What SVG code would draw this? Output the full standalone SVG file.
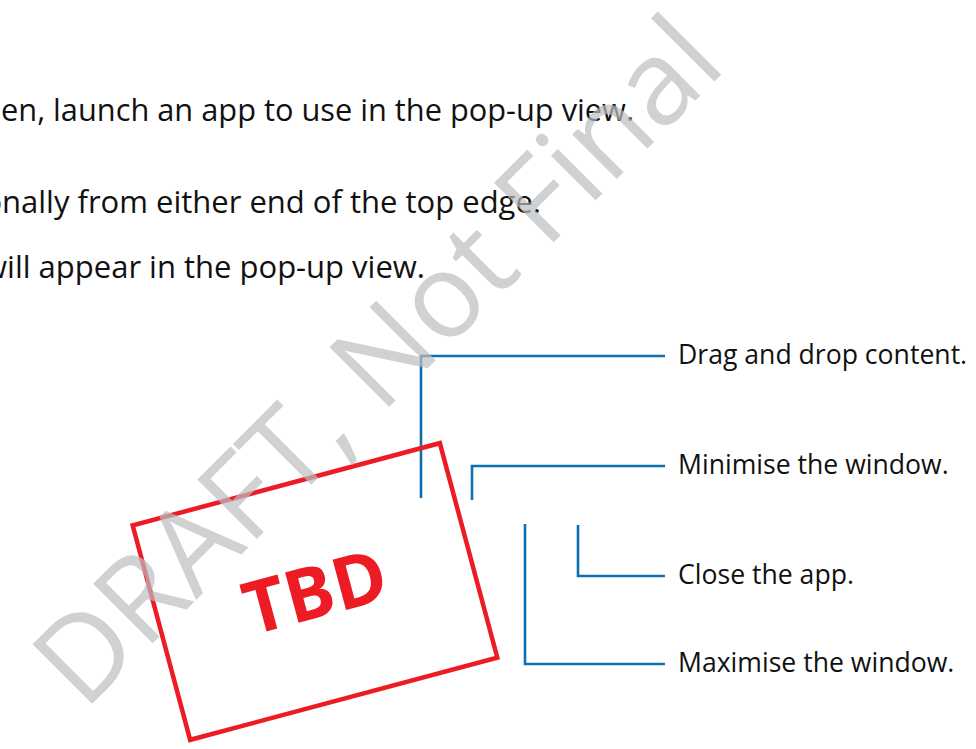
<svg xmlns="http://www.w3.org/2000/svg" width="976" height="749" viewBox="0 0 976 749">
<style>
  .body{font-family:"Open Sans","Liberation Sans",sans-serif;font-size:31px;fill:#111}
  .end{text-anchor:end}
  .lbl{font-family:"Open Sans","Liberation Sans",sans-serif;font-size:26.6px;fill:#111}
  .con{fill:none;stroke:#0b6fb0;stroke-width:2.6}
  .tbdbox{fill:none;stroke:#ed1c24;stroke-width:4.5}
  .tbd{font-family:"Open Sans","Liberation Sans",sans-serif;font-weight:bold;font-size:73px;fill:#ed1c24;text-anchor:middle}
  .wm{font-family:"Open Sans","Liberation Sans",sans-serif;font-size:118px;fill:#bcbec0;opacity:0.7}
</style>
<rect width="976" height="749" fill="#ffffff"/>
<g id="intro">
  <text class="body" x="1" y="121" textLength="633" lengthAdjust="spacingAndGlyphs">en, launch an app to use in the pop-up view.</text>
  <text class="body end" x="541" y="213">onally from either end of the top edge.</text>
  <text class="body end" x="425" y="278">will appear in the pop-up view.</text>
</g>
<g id="connectors">
  <path class="con" d="M421,498 V356 H665"/>
  <path class="con" d="M472,500 V466 H665"/>
  <path class="con" d="M578,525 V576 H665"/>
  <path class="con" d="M525,524 V664 H665"/>
</g>
<g id="label-drag"><text class="lbl" x="678" y="364">Drag and drop content.</text></g>
<g id="label-minimise"><text class="lbl" x="678" y="474">Minimise the window.</text></g>
<g id="label-close"><text class="lbl" x="678" y="584">Close the app.</text></g>
<g id="label-maximise"><text class="lbl" x="678" y="672">Maximise the window.</text></g>
<g id="tbd" transform="translate(315,591.5) rotate(-15)">
  <rect class="tbdbox" x="-159" y="-111" width="318" height="222"/>
  <text class="tbd" x="0" y="26">TBD</text>
</g>
<g id="watermark">
  <text class="wm" transform="translate(84,712) rotate(-45)">DRAFT, Not Final</text>
</g>
</svg>
